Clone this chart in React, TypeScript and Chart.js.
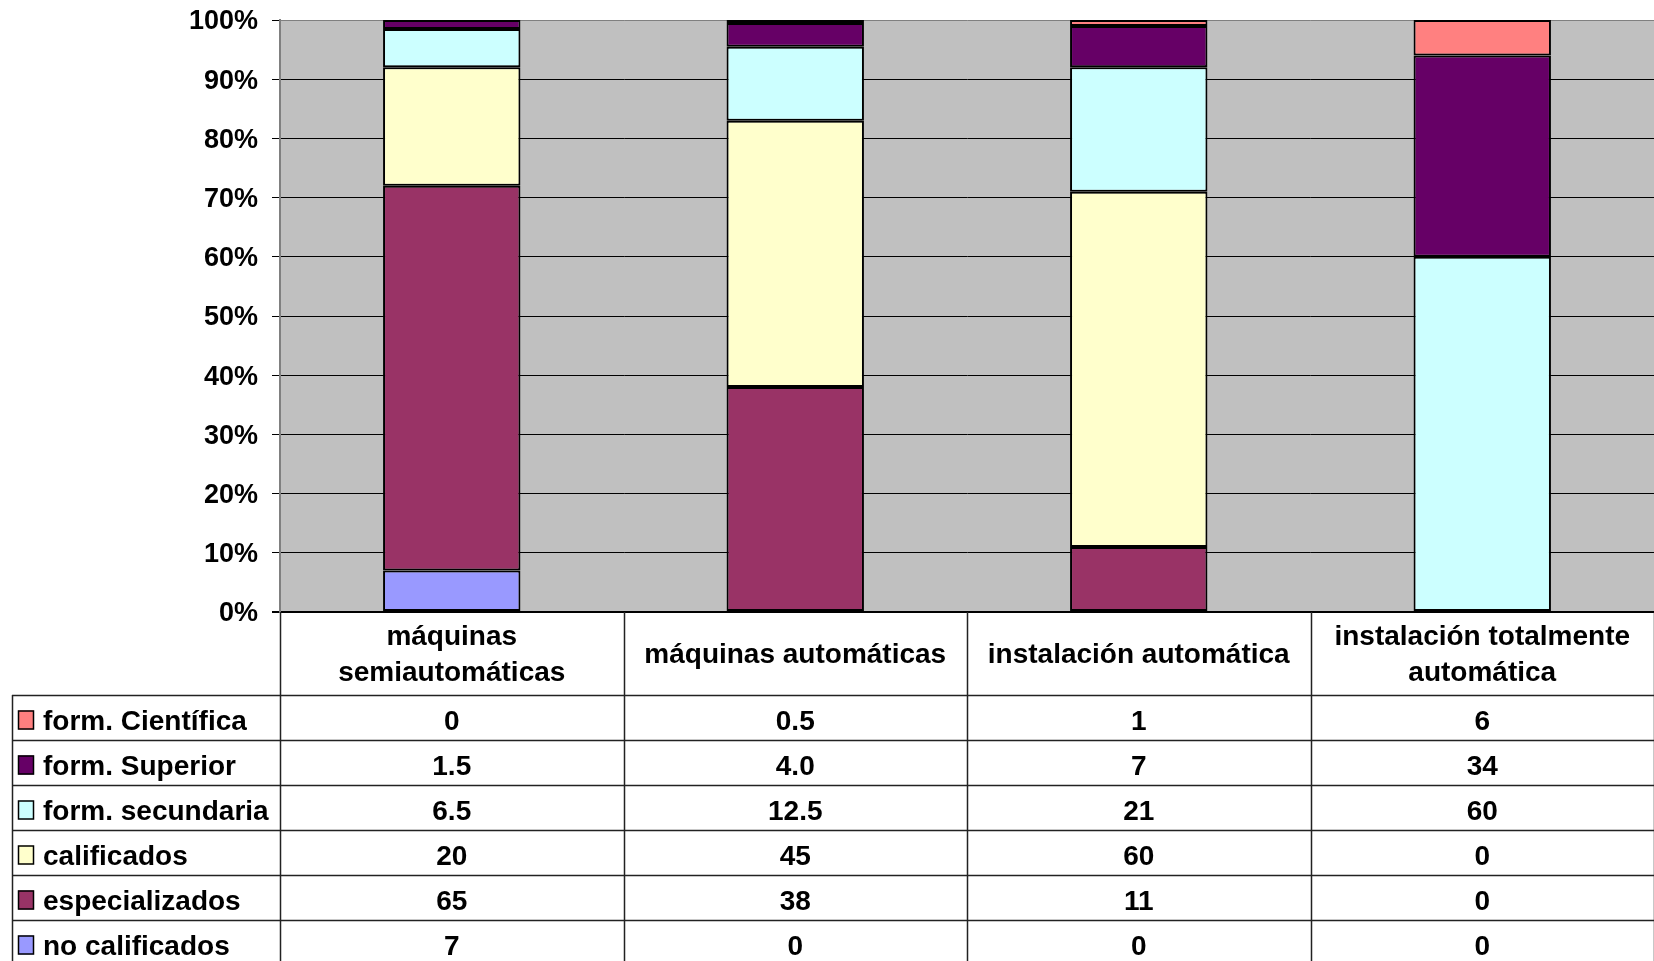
import React, { useEffect, useRef } from 'react';
import { Chart, registerables } from 'chart.js';

Chart.register(...registerables);

// Category labels (as they wrap in the table header)
const categoryLines: string[][] = [
  ['máquinas', 'semiautomáticas'],
  ['máquinas automáticas'],
  ['instalación automática'],
  ['instalación totalmente', 'automática'],
];
const categories = categoryLines.map((l) => l.join(' '));

// Series values, written as shown in the data table (bottom of stack first)
const noCalificados = ['7', '0', '0', '0'];
const especializados = ['65', '38', '11', '0'];
const calificados = ['20', '45', '60', '0'];
const formSecundaria = ['6.5', '12.5', '21', '60'];
const formSuperior = ['1.5', '4.0', '7', '34'];
const formCientifica = ['0', '0.5', '1', '6'];

const seriesNames = [
  'no calificados',
  'especializados',
  'calificados',
  'form. secundaria',
  'form. Superior',
  'form. Científica',
];
const seriesValues = [noCalificados, especializados, calificados, formSecundaria, formSuperior, formCientifica];
const seriesColors = ['#9999FF', '#993366', '#FFFFCC', '#CCFFFF', '#660066', '#FF8080'];

const yTicks = [0, 10, 20, 30, 40, 50, 60, 70, 80, 90, 100];

const FONT_FAMILY = '"Liberation Sans", Arial, sans-serif';
const TICK_FONT_SIZE = 27;
const TABLE_FONT_SIZE = 28;
const HEADER_H = 83;
const ROW_H = 45;
const TABLE_LEFT = 12;

const tablePlugin = {
  id: 'excelTable',
  beforeDraw(chart: any) {
    const { ctx, chartArea } = chart;
    ctx.save();
    ctx.fillStyle = '#C0C0C0';
    ctx.fillRect(chartArea.left, chartArea.top, chartArea.right - chartArea.left, chartArea.bottom - chartArea.top);
    ctx.restore();
  },
  afterDraw(chart: any) {
    const { ctx, chartArea } = chart;
    const xs = chart.scales.x;
    const n = categories.length;
    const colW = (xs.right - xs.left) / n;
    const top = chartArea.bottom;
    const headerBottom = top + HEADER_H;
    const rows = seriesNames.length;
    const bottom = headerBottom + rows * ROW_H;
    ctx.save();
    ctx.strokeStyle = '#222';
    ctx.lineWidth = 1.5;
    // vertical column lines
    for (let i = 0; i <= n; i++) {
      const x = Math.round(xs.left + i * colW) + 0.5;
      ctx.beginPath();
      ctx.moveTo(x, top);
      ctx.lineTo(x, bottom);
      ctx.stroke();
    }
    // left edge of row-label column
    ctx.beginPath();
    ctx.moveTo(TABLE_LEFT + 0.5, headerBottom);
    ctx.lineTo(TABLE_LEFT + 0.5, bottom);
    ctx.stroke();
    // horizontal lines
    for (let r = 0; r <= rows; r++) {
      const y = Math.round(headerBottom + r * ROW_H) + 0.5;
      ctx.beginPath();
      ctx.moveTo(TABLE_LEFT, y);
      ctx.lineTo(xs.right, y);
      ctx.stroke();
    }
    ctx.fillStyle = '#000';
    ctx.font = `bold ${TABLE_FONT_SIZE}px ${FONT_FAMILY}`;
    ctx.textAlign = 'center';
    ctx.textBaseline = 'middle';
    // header
    for (let i = 0; i < n; i++) {
      const cx = xs.getPixelForValue(i);
      const lines = categoryLines[i];
      const lh = 36;
      const cy = (top + headerBottom) / 2 + 2;
      lines.forEach((t, k) => {
        ctx.fillText(t, cx, cy + (k - (lines.length - 1) / 2) * lh);
      });
    }
    // rows: top row = last series
    for (let r = 0; r < rows; r++) {
      const s = rows - 1 - r;
      const cy = headerBottom + r * ROW_H + ROW_H / 2 + 5;
      // legend key
      ctx.fillStyle = seriesColors[s];
      ctx.fillRect(TABLE_LEFT + 6, cy - 12, 16, 19);
      ctx.strokeStyle = '#000';
      ctx.lineWidth = 1.5;
      ctx.strokeRect(TABLE_LEFT + 6.5, cy - 11.5, 15, 18);
      ctx.fillStyle = '#000';
      ctx.textAlign = 'left';
      ctx.fillText(seriesNames[s], TABLE_LEFT + 31, cy);
      ctx.textAlign = 'center';
      for (let i = 0; i < n; i++) {
        ctx.fillText(seriesValues[s][i], xs.getPixelForValue(i), cy);
      }
    }
    ctx.restore();
  },
};

export default function App() {
  const ref = useRef<HTMLCanvasElement | null>(null);
  useEffect(() => {
    if (!ref.current) return;
    const chart = new Chart(ref.current, {
      type: 'bar',
      data: {
        labels: categories,
        datasets: seriesNames.map((name, s) => ({
          label: name,
          data: seriesValues[s].map(Number),
          backgroundColor: seriesColors[s],
          borderColor: '#000',
          borderWidth: (c: any) => (c.raw === 0 ? 0 : 2),
          borderSkipped: false,
          barPercentage: 0.4,
          categoryPercentage: 1,
        })),
      },
      options: {
        responsive: false,
        animation: false,
        layout: { padding: { top: 20, bottom: 349, left: 0, right: 0 } },
        plugins: { legend: { display: false }, tooltip: { enabled: false } },
        scales: {
          x: { stacked: true, display: false },
          y: {
            stacked: true,
            min: 0,
            max: 100,
            afterFit: (scale: any) => {
              scale.width = 280;
              scale.paddingTop = 0;
              scale.paddingBottom = 0;
            },
            afterBuildTicks: (scale: any) => {
              scale.ticks = yTicks.map((v) => ({ value: v }));
            },
            ticks: {
              padding: 14,
              labelOffset: 2,
              color: '#000',
              font: { family: FONT_FAMILY, size: TICK_FONT_SIZE, weight: 'bold' },
              callback: (v: any) => `${v}%`,
            },
            grid: {
              color: (c: any) => (c.tick && c.tick.value === 100 ? '#808080' : '#000'),
              tickColor: '#000',
              lineWidth: (c: any) => (c.tick && c.tick.value === 0 ? 2 : 1),
              tickLength: 8,
            },
            border: { display: true, color: '#808080', width: 2 },
          },
        },
      },
      plugins: [tablePlugin],
    } as any);
    return () => chart.destroy();
  }, []);
  return (
    <div style={{ position: 'absolute', left: 0, top: 0, width: 1654, height: 961, background: '#fff' }}>
      <canvas ref={ref} width={1654} height={961} style={{ display: 'block' }} />
    </div>
  );
}
